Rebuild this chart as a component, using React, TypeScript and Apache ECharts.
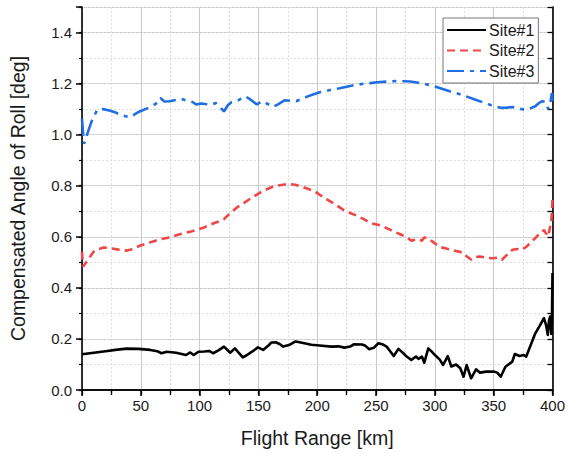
import React, { useEffect, useRef } from "react";
import * as echarts from "echarts";

const seriesNames = ["Site#1", "Site#2", "Site#3"];

const site1X = [0, 10, 20, 30, 38, 48, 58, 64, 67.5, 72, 80, 88.5, 92, 95, 99, 104, 108, 111.5, 116, 120.7, 126, 130, 136.7, 140, 144.5, 149.6, 154, 158, 161, 164.7, 168, 171, 176, 181.5, 185, 189, 195, 202, 212, 218, 223, 228, 231, 238, 241, 244, 248, 252, 256, 259, 262, 265, 269, 273, 276, 280, 284, 286, 289, 291, 294.4, 297, 300, 304, 307, 311, 314, 318, 321.6, 324.4, 327, 330.8, 335, 338.4, 343.6, 350.4, 353, 356, 360, 365.8, 368, 372, 375.6, 377.6, 381, 385.4, 389, 392.7, 394.5, 396, 397, 398, 399, 399.6, 400];
const site1Y = [0.14, 0.146, 0.152, 0.158, 0.162, 0.161, 0.157, 0.152, 0.144, 0.15, 0.146, 0.137, 0.147, 0.137, 0.15, 0.151, 0.153, 0.144, 0.155, 0.17, 0.146, 0.163, 0.128, 0.136, 0.15, 0.167, 0.157, 0.172, 0.186, 0.187, 0.18, 0.17, 0.176, 0.19, 0.187, 0.183, 0.177, 0.174, 0.17, 0.171, 0.166, 0.17, 0.179, 0.178, 0.173, 0.16, 0.165, 0.183, 0.178, 0.17, 0.152, 0.133, 0.161, 0.145, 0.131, 0.118, 0.131, 0.122, 0.131, 0.107, 0.163, 0.152, 0.137, 0.12, 0.098, 0.133, 0.092, 0.1, 0.085, 0.052, 0.098, 0.046, 0.081, 0.068, 0.072, 0.072, 0.068, 0.052, 0.091, 0.111, 0.141, 0.133, 0.137, 0.13, 0.17, 0.222, 0.25, 0.281, 0.255, 0.216, 0.27, 0.288, 0.22, 0.3, 0.458];

const site2X = [0, 0.5, 1, 5, 10, 14, 18.5, 23, 28, 33, 38, 44, 49, 55, 60.5, 66, 72, 78, 83, 88, 92.7, 98, 102.5, 107, 111, 116, 120.7, 124, 127.7, 132, 137.5, 142, 146, 151, 156, 161, 167, 175, 181, 186.5, 192, 198, 206, 215, 223, 228, 234, 240, 245, 255, 260, 265, 270, 275, 280, 285, 289, 291, 294, 299, 304, 308, 312.6, 318, 323.8, 327, 331, 334, 338, 344, 349, 353, 357, 361, 366, 370, 374, 378, 382.6, 387, 391, 393, 394.7, 396, 397, 398, 399, 400];
const site2Y = [0.542, 0.5, 0.484, 0.51, 0.542, 0.552, 0.558, 0.556, 0.552, 0.548, 0.546, 0.553, 0.565, 0.573, 0.582, 0.59, 0.595, 0.603, 0.61, 0.615, 0.621, 0.628, 0.634, 0.643, 0.651, 0.66, 0.669, 0.684, 0.699, 0.716, 0.732, 0.746, 0.758, 0.772, 0.784, 0.794, 0.801, 0.807, 0.804, 0.797, 0.788, 0.778, 0.752, 0.728, 0.703, 0.693, 0.682, 0.668, 0.654, 0.643, 0.632, 0.621, 0.611, 0.601, 0.585, 0.59, 0.585, 0.597, 0.595, 0.578, 0.56, 0.556, 0.551, 0.544, 0.538, 0.524, 0.51, 0.52, 0.523, 0.518, 0.516, 0.518, 0.51, 0.528, 0.549, 0.552, 0.549, 0.562, 0.582, 0.603, 0.621, 0.626, 0.61, 0.625, 0.615, 0.64, 0.66, 0.745];

const site3X = [0, 1, 1.7, 3, 4.5, 8, 13, 18, 24, 28, 32.5, 37, 41, 45, 49, 55, 60.5, 64, 66.6, 70, 74.5, 80, 84.3, 88, 91, 94, 97, 101, 105, 110, 113.7, 117, 120.7, 124, 127, 133, 139, 144, 148.7, 151, 154, 158, 162.7, 167, 172.5, 177, 182, 187, 192, 197, 202, 207, 212, 219, 226, 233, 240, 245, 251, 260, 268, 274, 279, 285, 290, 295, 300, 306, 312.6, 320, 326.6, 334, 340.6, 348, 356, 361, 365.8, 371, 377, 381, 385.4, 388, 391, 394, 396.5, 398, 399.5, 400];
const site3Y = [1.062, 1.0, 0.965, 0.978, 1.003, 1.05, 1.098, 1.1, 1.094, 1.088, 1.078, 1.072, 1.069, 1.08, 1.091, 1.102, 1.114, 1.125, 1.144, 1.13, 1.131, 1.136, 1.14, 1.135, 1.131, 1.128, 1.118, 1.122, 1.12, 1.118, 1.124, 1.11, 1.091, 1.115, 1.127, 1.135, 1.15, 1.135, 1.118, 1.125, 1.131, 1.12, 1.109, 1.12, 1.135, 1.133, 1.131, 1.14, 1.15, 1.158, 1.166, 1.17, 1.176, 1.182, 1.189, 1.195, 1.2, 1.202, 1.205, 1.208, 1.21, 1.209, 1.208, 1.204, 1.2, 1.195, 1.189, 1.18, 1.17, 1.16, 1.15, 1.138, 1.127, 1.115, 1.105, 1.106, 1.108, 1.102, 1.098, 1.103, 1.111, 1.122, 1.131, 1.128, 1.1, 1.12, 1.163, 1.12];

const xTicks = [0, 50, 100, 150, 200, 250, 300, 350, 400];
const yTicks = [0, 0.2, 0.4, 0.6, 0.8, 1.0, 1.2, 1.4];

const pairs = (xs: number[], ys: number[]) => xs.map((x, i) => [x, ys[i]]);

const FONT = "'Liberation Sans', Arial, sans-serif";
const TXT = "#1a1a1a";

export default function App() {
  const ref = useRef<HTMLDivElement>(null);
  useEffect(() => {
    if (!ref.current) return;
    const chart = echarts.init(ref.current, null, { renderer: "svg" });
    const axisLine = { show: true, lineStyle: { color: "#000", width: 1.6 } };
    chart.setOption({
      animation: false,
      backgroundColor: "#fff",
      textStyle: { fontFamily: FONT },
      grid: { left: 78, right: 14, top: 7, bottom: 63, containLabel: false },
      legend: {
        orient: "vertical",
        left: 443,
        top: 18,
        padding: [4, 4, 4, 3],
        itemWidth: 39,
        itemHeight: 14,
        itemGap: 4.5,
        borderColor: "#777",
        borderWidth: 1,
        backgroundColor: "#fff",
        itemStyle: { color: "transparent", borderColor: "transparent", borderWidth: 0, opacity: 0 },
        textStyle: { fontFamily: FONT, fontSize: 16, color: TXT, lineHeight: 16, padding: [0, 0, 0, -2] },
        data: seriesNames,
      },
      xAxis: [
        {
          type: "value",
          min: xTicks[0],
          max: xTicks[xTicks.length - 1],
          interval: 50,
          name: "Flight Range [km]",
          nameLocation: "middle",
          nameGap: 38,
          nameTextStyle: { fontFamily: FONT, fontSize: 19.5, color: TXT },
          axisLine,
          axisTick: { show: true, inside: false, length: 6, lineStyle: { color: "#000", width: 1.5 } },
          minorTick: { show: true, splitNumber: 2, length: 3, lineStyle: { color: "#000", width: 1.2 } },
          axisLabel: { fontFamily: FONT, fontSize: 15, color: TXT, margin: 8 },
          splitLine: { show: true, lineStyle: { color: "#c9c9c9", width: 1 } },
          minorSplitLine: { show: true, lineStyle: { color: "#dedede", width: 1, type: [2, 2] } },
        },
        {
          type: "value",
          position: "top",
          min: 0,
          max: 400,
          interval: 25,
          axisLine,
          axisTick: { show: true, inside: true, length: 5, lineStyle: { color: "#000", width: 1.3 } },
          axisLabel: { show: false },
          splitLine: { show: false },
        },
      ],
      yAxis: [
        {
          type: "value",
          min: 0,
          max: 1.5,
          interval: 0.2,
          name: "Compensated Angle of Roll [deg]",
          nameLocation: "middle",
          nameGap: 54,
          nameTextStyle: { fontFamily: FONT, fontSize: 19.5, color: TXT },
          axisLine,
          axisTick: { show: true, inside: false, length: 6, lineStyle: { color: "#000", width: 1.5 } },
          axisLabel: {
            fontFamily: FONT,
            fontSize: 15,
            color: TXT,
            margin: 10,
            formatter: (v: number) => (yTicks.some((t) => Math.abs(t - v) < 1e-6) ? v.toFixed(1) : ""),
          },
          splitLine: { show: true, lineStyle: { color: "#c9c9c9", width: 1 } },
        },
        {
          type: "value",
          position: "left",
          min: 0,
          max: 1.5,
          interval: 0.1,
          axisLine: { show: false },
          axisTick: { show: true, inside: false, length: 3, lineStyle: { color: "#000", width: 1.2 } },
          axisLabel: { show: false },
          splitLine: { show: true, lineStyle: { color: "#dedede", width: 1, type: [2, 2] } },
          z: 0,
        },
        {
          type: "value",
          position: "right",
          min: 0,
          max: 1.5,
          interval: 0.1,
          axisLine,
          axisTick: { show: true, inside: true, length: 5, lineStyle: { color: "#000", width: 1.3 } },
          axisLabel: { show: false },
          splitLine: { show: false },
        },
      ],
      series: [
        {
          name: seriesNames[0],
          type: "line",
          data: pairs(site1X, site1Y),
          symbol: "none",
          lineStyle: { color: "#000", width: 2.6, type: "solid", join: "round" },
          itemStyle: { color: "#000" },
          z: 5,
        },
        {
          name: seriesNames[1],
          type: "line",
          data: pairs(site2X, site2Y),
          symbol: "none",
          lineStyle: { color: "#f24646", width: 2.6, type: [8, 5] },
          itemStyle: { color: "#f24646" },
          z: 5,
        },
        {
          name: seriesNames[2],
          type: "line",
          data: pairs(site3X, site3Y),
          symbol: "none",
          lineStyle: { color: "#1f6fe3", width: 2.6, type: [17, 6, 4, 6] },
          itemStyle: { color: "#1f6fe3" },
          z: 5,
        },
      ],
    });
    return () => chart.dispose();
  }, []);
  return <div ref={ref} style={{ width: 568, height: 453, position: "absolute", left: 0, top: 0 }} />;
}
